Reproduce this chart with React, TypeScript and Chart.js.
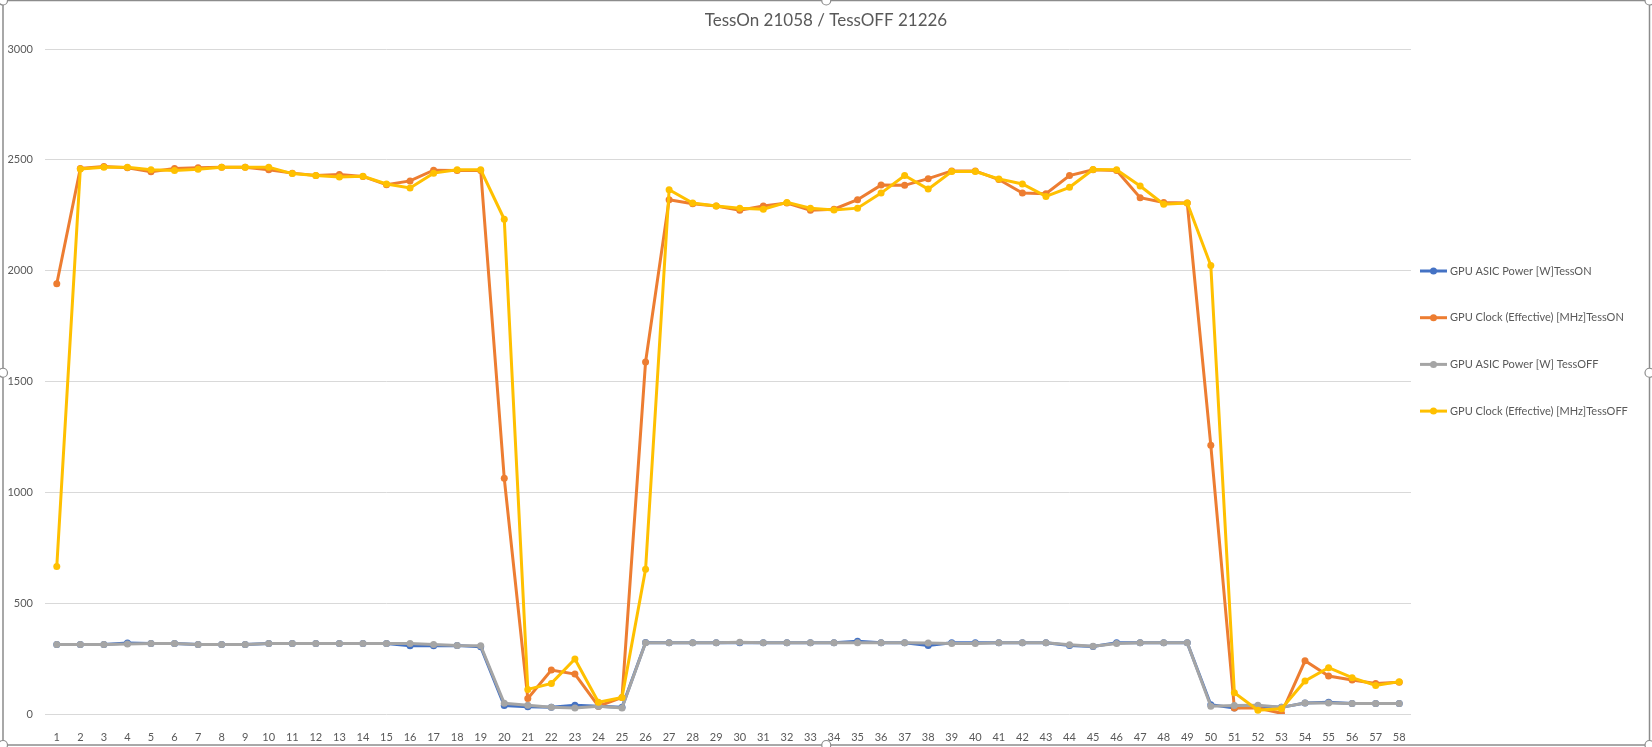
import React, { useEffect, useRef } from "react";
import { Chart, registerables } from "chart.js";

Chart.register(...registerables);

const chartTitle = "TessOn 21058 / TessOFF 21226";

const categories = [
  "1", "2", "3", "4", "5", "6", "7", "8", "9", "10",
  "11", "12", "13", "14", "15", "16", "17", "18", "19", "20",
  "21", "22", "23", "24", "25", "26", "27", "28", "29", "30",
  "31", "32", "33", "34", "35", "36", "37", "38", "39", "40",
  "41", "42", "43", "44", "45", "46", "47", "48", "49", "50",
  "51", "52", "53", "54", "55", "56", "57", "58",
];

const yTicks = [0, 500, 1000, 1500, 2000, 2500, 3000];

const seriesLabels = [
  "GPU ASIC Power [W]TessON",
  "GPU Clock (Effective) [MHz]TessON",
  "GPU ASIC Power [W] TessOFF",
  "GPU Clock (Effective) [MHz]TessOFF",
];

const powerOn = [
  314, 314, 314, 320, 318, 318, 314, 314, 314, 318,
  318, 318, 318, 318, 318, 308, 308, 309, 303, 38,
  33, 30, 39, 35, 30, 323, 321, 321, 321, 321,
  321, 321, 321, 321, 328, 321, 321, 309, 321, 321,
  321, 321, 321, 309, 305, 321, 321, 321, 321, 42,
  27, 35, 30, 50, 53, 47, 47, 47,
];

const clockOn = [
  1941, 2461, 2470, 2464, 2446, 2461, 2464, 2467, 2467, 2455,
  2440, 2429, 2434, 2425, 2388, 2405, 2453, 2452, 2452, 1063,
  70, 198, 180, 35, 75, 1588, 2320, 2302, 2292, 2273,
  2292, 2305, 2273, 2277, 2320, 2386, 2385, 2415, 2450, 2450,
  2411, 2350, 2347, 2429, 2455, 2452, 2329, 2308, 2305, 1212,
  27, 27, 3, 240, 171, 153, 138, 143,
];

const powerOff = [
  314, 314, 314, 316, 318, 318, 314, 314, 314, 318,
  318, 318, 318, 318, 318, 318, 314, 309, 308, 48,
  40, 30, 27, 35, 27, 321, 321, 321, 321, 324,
  321, 321, 321, 321, 321, 321, 321, 320, 318, 318,
  321, 321, 321, 312, 306, 318, 321, 321, 321, 35,
  38, 39, 30, 50, 50, 47, 47, 47,
];

const clockOff = [
  665, 2459, 2467, 2467, 2455, 2452, 2458, 2467, 2467, 2467,
  2438, 2429, 2423, 2426, 2391, 2373, 2440, 2455, 2455, 2232,
  111, 138, 248, 53, 75, 653, 2365, 2305, 2292, 2282,
  2277, 2308, 2282, 2274, 2282, 2350, 2429, 2368, 2447, 2447,
  2414, 2391, 2335, 2376, 2456, 2455, 2382, 2300, 2305, 2023,
  96, 17, 24, 149, 209, 164, 129, 146,
];

const seriesColors = ["#4472C4", "#ED7D31", "#A5A5A5", "#FFC000"];

const W = 1652;
const H = 747;
const TEXT = "#595959";
const FONT = "Lato, 'Liberation Sans', sans-serif";

const titlePlugin = {
  id: "excelTitle",
  afterDraw(chart: any) {
    const ctx = chart.ctx;
    ctx.save();
    ctx.fillStyle = TEXT;
    ctx.font = `17px ${FONT}`;
    ctx.textAlign = "center";
    ctx.textBaseline = "middle";
    ctx.fillText(chartTitle, chart.width / 2, 21);
    ctx.restore();
  },
};

const legendPlugin = {
  id: "excelLegend",
  afterDraw(chart: any) {
    const ctx = chart.ctx;
    const x0 = chart.chartArea.right + 9;
    const y0 = 271;
    const step = 46.7;
    ctx.save();
    chart.data.datasets.forEach((ds: any, i: number) => {
      const y = y0 + i * step;
      ctx.strokeStyle = ds.borderColor;
      ctx.lineWidth = 3;
      ctx.beginPath();
      ctx.moveTo(x0, y);
      ctx.lineTo(x0 + 27, y);
      ctx.stroke();
      ctx.fillStyle = ds.borderColor;
      ctx.beginPath();
      ctx.arc(x0 + 13.5, y, 3.5, 0, Math.PI * 2);
      ctx.fill();
      ctx.fillStyle = TEXT;
      ctx.font = `11px ${FONT}`;
      ctx.textBaseline = "middle";
      ctx.textAlign = "left";
      ctx.fillText(ds.label, x0 + 30, y);
    });
    ctx.restore();
  },
};

const framePlugin = {
  id: "excelFrame",
  beforeDraw(chart: any) {
    const ctx = chart.ctx;
    ctx.save();
    ctx.fillStyle = "#ffffff";
    ctx.fillRect(0, 0, chart.width, chart.height);
    ctx.restore();
  },
  afterDraw(chart: any) {
    const ctx = chart.ctx;
    const l = 3, t = 0.5, r = chart.width - 2.5, b = chart.height - 2;
    ctx.save();
    ctx.strokeStyle = "#8c8c8c";
    ctx.lineWidth = 1.5;
    ctx.strokeRect(l, t, r - l, b - t);
    const mx = (l + r) / 2;
    const my = (t + b) / 2;
    const handles = [
      [l, t], [mx, t], [r, t],
      [l, my], [r, my],
      [l, b], [mx, b], [r, b],
    ];
    handles.forEach(([hx, hy]) => {
      ctx.beginPath();
      ctx.arc(hx, hy, 4.5, 0, Math.PI * 2);
      ctx.fillStyle = "#ffffff";
      ctx.fill();
      ctx.strokeStyle = "#8c8c8c";
      ctx.lineWidth = 1.2;
      ctx.stroke();
    });
    ctx.restore();
  },
};

export default function App() {
  const canvasRef = useRef<HTMLCanvasElement | null>(null);

  useEffect(() => {
    const canvas = canvasRef.current;
    if (!canvas) return;
    const dataArrays = [powerOn, clockOn, powerOff, clockOff];
    const chart = new Chart(canvas, {
      type: "line",
      data: {
        labels: categories,
        datasets: seriesLabels.map((label, i) => ({
          label,
          data: dataArrays[i],
          borderColor: seriesColors[i],
          backgroundColor: seriesColors[i],
          pointBackgroundColor: seriesColors[i],
          pointBorderColor: seriesColors[i],
          borderWidth: 3,
          pointRadius: 3.5,
          pointBorderWidth: 0,
          tension: 0,
          fill: false,
          order: 3 - i,
        })),
      },
      options: {
        responsive: false,
        animation: false,
        devicePixelRatio: 1,
        layout: { padding: { left: 0, right: 241, top: 49, bottom: 0 } },
        plugins: {
          legend: { display: false },
          tooltip: { enabled: false },
          title: { display: false },
        },
        scales: {
          x: {
            type: "category",
            offset: true,
            grid: { display: false },
            border: { display: false },
            ticks: {
              color: TEXT,
              font: { family: FONT, size: 11 },
              maxRotation: 0,
              minRotation: 0,
              autoSkip: false,
              padding: 9,
            },
            afterFit(scale: any) {
              scale.height = 33;
            },
          },
          y: {
            min: 0,
            max: 3000,
            afterBuildTicks(scale: any) {
              scale.ticks = yTicks.map((v) => ({ value: v }));
            },
            grid: { color: "#D9D9D9", lineWidth: 1, drawTicks: false },
            border: { display: false },
            ticks: {
              color: TEXT,
              font: { family: FONT, size: 11 },
              padding: 12,
              callback: (v: any) => String(v),
            },
            afterFit(scale: any) {
              scale.width = 45;
            },
          },
        },
      },
      plugins: [framePlugin, titlePlugin, legendPlugin],
    });
    return () => chart.destroy();
  }, []);

  return (
    <div style={{ position: "absolute", left: 0, top: 0, width: W, height: H, background: "#fff" }}>
      <canvas ref={canvasRef} width={W} height={H} style={{ display: "block", width: W, height: H }} />
    </div>
  );
}
